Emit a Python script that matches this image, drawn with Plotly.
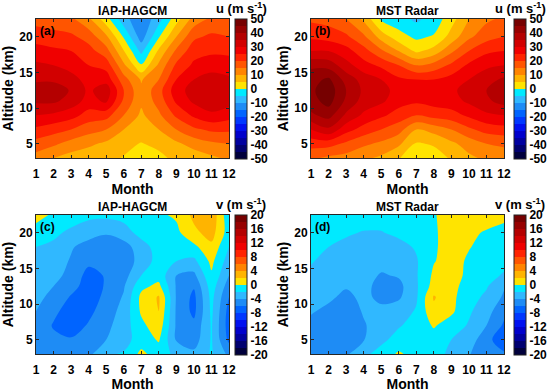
import plotly.graph_objects as go

# ---------------- data ----------------
months = list(range(1, 13))
altitudes = [3, 5, 7, 9, 11, 12.5, 14, 16, 18, 20, 22.5]

# one list per month (Jan..Dec), values from low to high altitude
u_iap = [
    [13, 18, 24, 30, 36, 38, 34, 31, 27, 23, 18],
    [10, 16, 22, 29, 36, 38, 34, 30, 26, 22, 17],
    [8, 13, 20, 27, 33, 34.5, 32, 28, 25, 21, 16],
    [7, 11, 17, 23, 28, 29, 28, 25, 22, 18, 11],
    [6, 9, 15, 22, 31, 33, 28, 23, 17, 11, 2],
    [4.8, 6, 10, 15, 19, 20, 17, 11, 5.3, -0.5, -8],
    [2.5, 4.8, 7, 9, 11, 11, 9.5, 0.5, -6.4, -12.4, -14],
    [4, 6, 10, 14, 17, 18, 15, 11, 6, -0.5, -7],
    [6, 9, 15, 21, 26, 28, 25, 21, 16, 10, 3],
    [7, 12, 19, 26, 31, 32, 30, 26, 23, 19, 12],
    [9, 14, 21, 29, 33, 34, 32, 28, 24, 21, 16],
    [11, 15, 21, 27, 32, 33, 31, 27, 24, 20, 17],
]
u_mst = [
    [16, 22, 30, 39, 43, 44, 43, 39, 30, 24, 19],
    [14, 22, 34, 42, 47, 48, 46, 38, 30, 23, 18],
    [13, 19, 27, 34, 39, 40, 38, 32, 27, 21, 15],
    [11, 16, 23, 29, 33, 34, 33, 27, 22, 16, 9],
    [9, 14, 20, 26, 31, 32, 30, 24, 16, 8, -1],
    [5.3, 11, 17, 23, 27, 28, 26, 20, 10, 2, -3],
    [2, 4.5, 10, 20, 26, 27, 25, 15, 4, -1, -6],
    [3, 5.5, 12, 22, 27, 27, 25, 17, 7, 0.5, -3],
    [5.5, 9, 15, 23, 28, 29, 27, 21, 14, 7, 3],
    [9, 12, 19, 26, 31, 32, 30, 26, 20, 14, 10],
    [11, 15, 22, 29, 34, 35, 33, 29, 24, 18, 14],
    [12, 16, 23, 30, 37, 38, 36, 30, 25, 20, 16],
]
v_iap = [
    [-5, -4.8, -4.4, -4.0, -3.5, -3.2, -3, -2.6, -2.0, -0.8, 0.7],
    [-5, -5.5, -6.2, -5.5, -4.5, -4, -3.5, -3, -2.5, -1.5, -0.3],
    [-5, -5.8, -7, -7, -6.2, -5.2, -4.5, -4.2, -3.8, -2.5, -0.8],
    [-4.5, -5, -5.8, -6.5, -7, -7, -6.8, -5.5, -4.8, -3.2, -1.5],
    [-2.3, -4, -4.5, -5, -5.5, -5.8, -5.8, -5.6, -5.2, -3.8, -1.5],
    [-1.8, -2.8, -3, -3.3, -3.8, -4.2, -4.8, -5.2, -4.8, -3, -1.2],
    [0.5, -1, -0.5, 0.3, 0.5, -0.5, -2.0, -3.2, -3.0, -1.2, -0.8],
    [-1, 0.2, 1.2, 2.0, 2.2, 0.5, -0.8, -1.2, -1, -0.8, -0.3],
    [-2.5, -4.2, -4.3, -4.3, -4.2, -4.2, -4, -2, -1, -0.5, 0.3],
    [-3.5, -5, -5.5, -6.5, -6.5, -5.8, -4.5, -2.5, -0.5, 1.5, 2.5],
    [-1.8, -1.8, -1.8, -1.6, -1.4, -1, -0.3, 0.5, 1.5, 2.8, 3.5],
    [-4.5, -6.5, -7, -6.8, -6, -5, -4, -3, -2, -1, -1.5],
]
v_mst = [
    [-5, -5.2, -4.6, -3.8, -3.2, -2.8, -2.3, -1.9, -1.5, -1.2, -1.0],
    [-5.3, -5.6, -5.2, -4.5, -3.6, -3.2, -2.8, -2.4, -2, -1.3, -0.8],
    [-4.3, -5.8, -5.5, -5.2, -4.5, -3.8, -3.2, -2.8, -2.4, -1.8, -1],
    [-2.5, -4.1, -4.2, -3.8, -3.5, -3.3, -3.2, -3, -2.6, -2.1, -1.2],
    [-1.2, -2.5, -3, -3.5, -4.5, -4.8, -4.2, -3.3, -2.8, -2.1, -1.2],
    [0.3, -1.2, -2.2, -3, -4.3, -4.6, -3.8, -3.2, -2.6, -1.6, -1],
    [-0.8, -0.8, -1.2, -1.8, -2.3, -2.3, -2.2, -2.2, -1.8, -1, -0.6],
    [-1, -0.8, 0.2, 1.5, 2.2, 0.8, 0.4, -0.1, -0.3, -0.3, -0.2],
    [-2.6, -2.0, -1.0, 0.4, 0.5, 0.6, 0.9, 0.8, 1, 1, 1.1],
    [-3.8, -2.8, -2.2, -1.7, -1.2, -0.8, -0.5, -0.3, 0.1, 0.4, 1],
    [-5.8, -5.5, -4.0, -3.2, -2.4, -1.8, -1.4, -1.0, -0.6, -0.2, 1],
    [-5.8, -7, -6.3, -5.5, -4.3, -3.8, -2.2, -1.5, -1, -0.6, 0.5],
]

u_ticks = [-50, -40, -30, -20, -10, 0, 10, 20, 30, 40, 50]
v_ticks = [-20, -16, -12, -8, -4, 0, 4, 8, 12, 16, 20]
alt_ticks = [5, 10, 15, 20]

band_colors = [
    "#00003c", "#000070", "#0000a0", "#0000cc", "#0010f0",
    "#0038ff", "#0064ff", "#1e8cf5", "#30b8ff", "#00eaff",
    "#ffe400", "#ffb400", "#ff8400", "#ff5500", "#ff2400",
    "#f00000", "#d20000", "#b40000", "#960000", "#760000",
]

# ---------------- helpers ----------------
W, H = 550, 392
FONT = "Liberation Sans, Arial, sans-serif"


def fx(px):
    return px / W


def fy(py):
    return 1 - py / H


def transpose(cols):
    return [list(r) for r in zip(*cols)]


def step_scale(colors):
    n = len(colors)
    N = n + 1
    scale = []
    for i, c in enumerate(colors):
        lo = 0 if i == 0 else (i + 0.5) / N
        hi = 1 if i == n - 1 else (i + 1.5) / N
        scale.append([lo, c])
        scale.append([hi, c])
    return scale


panels = [
    dict(z=u_iap, lim=50, step=5, ticks=u_ticks, var="u", title="IAP-HAGCM", tag="(a)",
         x0=36, x1=229, y0=19, y1=158, cbx=235),
    dict(z=u_mst, lim=50, step=5, ticks=u_ticks, var="u", title="MST Radar", tag="(b)",
         x0=311, x1=504, y0=19, y1=158, cbx=514),
    dict(z=v_iap, lim=20, step=2, ticks=v_ticks, var="v", title="IAP-HAGCM", tag="(c)",
         x0=36, x1=229, y0=215, y1=354, cbx=235),
    dict(z=v_mst, lim=20, step=2, ticks=v_ticks, var="v", title="MST Radar", tag="(d)",
         x0=311, x1=504, y0=215, y1=354, cbx=514),
]

fig = go.Figure()
annotations = []
scale = step_scale(band_colors)
tickfont = dict(family=FONT, size=12, color="black", weight="bold")

for k, p in enumerate(panels):
    sfx = "" if k == 0 else str(k + 1)
    fig.add_trace(go.Contour(
        x=months, y=altitudes, z=transpose(p["z"]),
        xaxis="x" + sfx, yaxis="y" + sfx,
        contours=dict(start=-p["lim"], end=p["lim"], size=p["step"],
                      coloring="fill", showlines=False),
        line=dict(width=0),
        colorscale=scale, zmin=-p["lim"], zmax=p["lim"],
        hoverinfo="skip",
        colorbar=dict(
            x=fx(p["cbx"]), xanchor="left", y=fy(p["y0"]), yanchor="top",
            len=p["y1"] - p["y0"] + 1, lenmode="pixels",
            thickness=12, thicknessmode="pixels", xpad=0, ypad=0,
            outlinewidth=1, outlinecolor="#222222",
            tickvals=p["ticks"], ticktext=[str(t) for t in p["ticks"]],
            ticks="", tickfont=tickfont,
        ),
    ))
    axcommon = dict(showline=True, linecolor="#262626", linewidth=1, mirror="ticks",
                    ticks="inside", ticklen=3, tickcolor="#262626", showgrid=False,
                    zeroline=False, tickfont=tickfont, automargin=False)
    fig.layout["xaxis" + sfx] = dict(
        domain=[fx(p["x0"]), fx(p["x1"])], range=[1, 12], tickvals=months,
        anchor="y" + sfx, ticklabelstandoff=5,
        title=dict(text="Month", font=dict(family=FONT, size=14, color="black", weight="bold"),
                   standoff=1),
        **axcommon)
    fig.layout["yaxis" + sfx] = dict(
        domain=[fy(p["y1"]), fy(p["y0"])], range=[3, 22.5], tickvals=alt_ticks,
        anchor="x" + sfx,
        title=dict(text="Altitude (km)", font=dict(family=FONT, size=14, color="black", weight="bold"),
                   standoff=2),
        **axcommon)
    annotations.append(dict(
        x=fx((p["x0"] + p["x1"]) / 2), y=fy(p["y0"] - 8), xref="paper", yref="paper",
        text="<b>%s</b>" % p["title"], showarrow=False, xanchor="center", yanchor="middle",
        font=dict(family=FONT, size=12, color="black")))
    annotations.append(dict(
        x=fx(p["x0"] + 2), y=fy(p["y0"] + 12), xref="paper", yref="paper",
        text="<b>%s</b>" % p["tag"], showarrow=False, xanchor="left", yanchor="middle",
        font=dict(family=FONT, size=12, color="black")))
    annotations.append(dict(
        x=fx(p["cbx"] + 6), y=fy(p["y0"] - 2), xref="paper", yref="paper",
        text="<b>%s (m s<sup>-1</sup>)</b>" % p["var"], showarrow=False,
        xanchor="center", yanchor="bottom", borderpad=0,
        font=dict(family=FONT, size=13, color="black")))

fig.update_layout(
    width=W, height=H, margin=dict(l=0, r=0, t=0, b=0, autoexpand=False),
    paper_bgcolor="white", plot_bgcolor="white",
    annotations=annotations, showlegend=False,
    font=dict(family=FONT, color="black"),
)

fig.write_html("out.html", config={"displayModeBar": False},
               post_script="document.body.style.margin='0px';")
